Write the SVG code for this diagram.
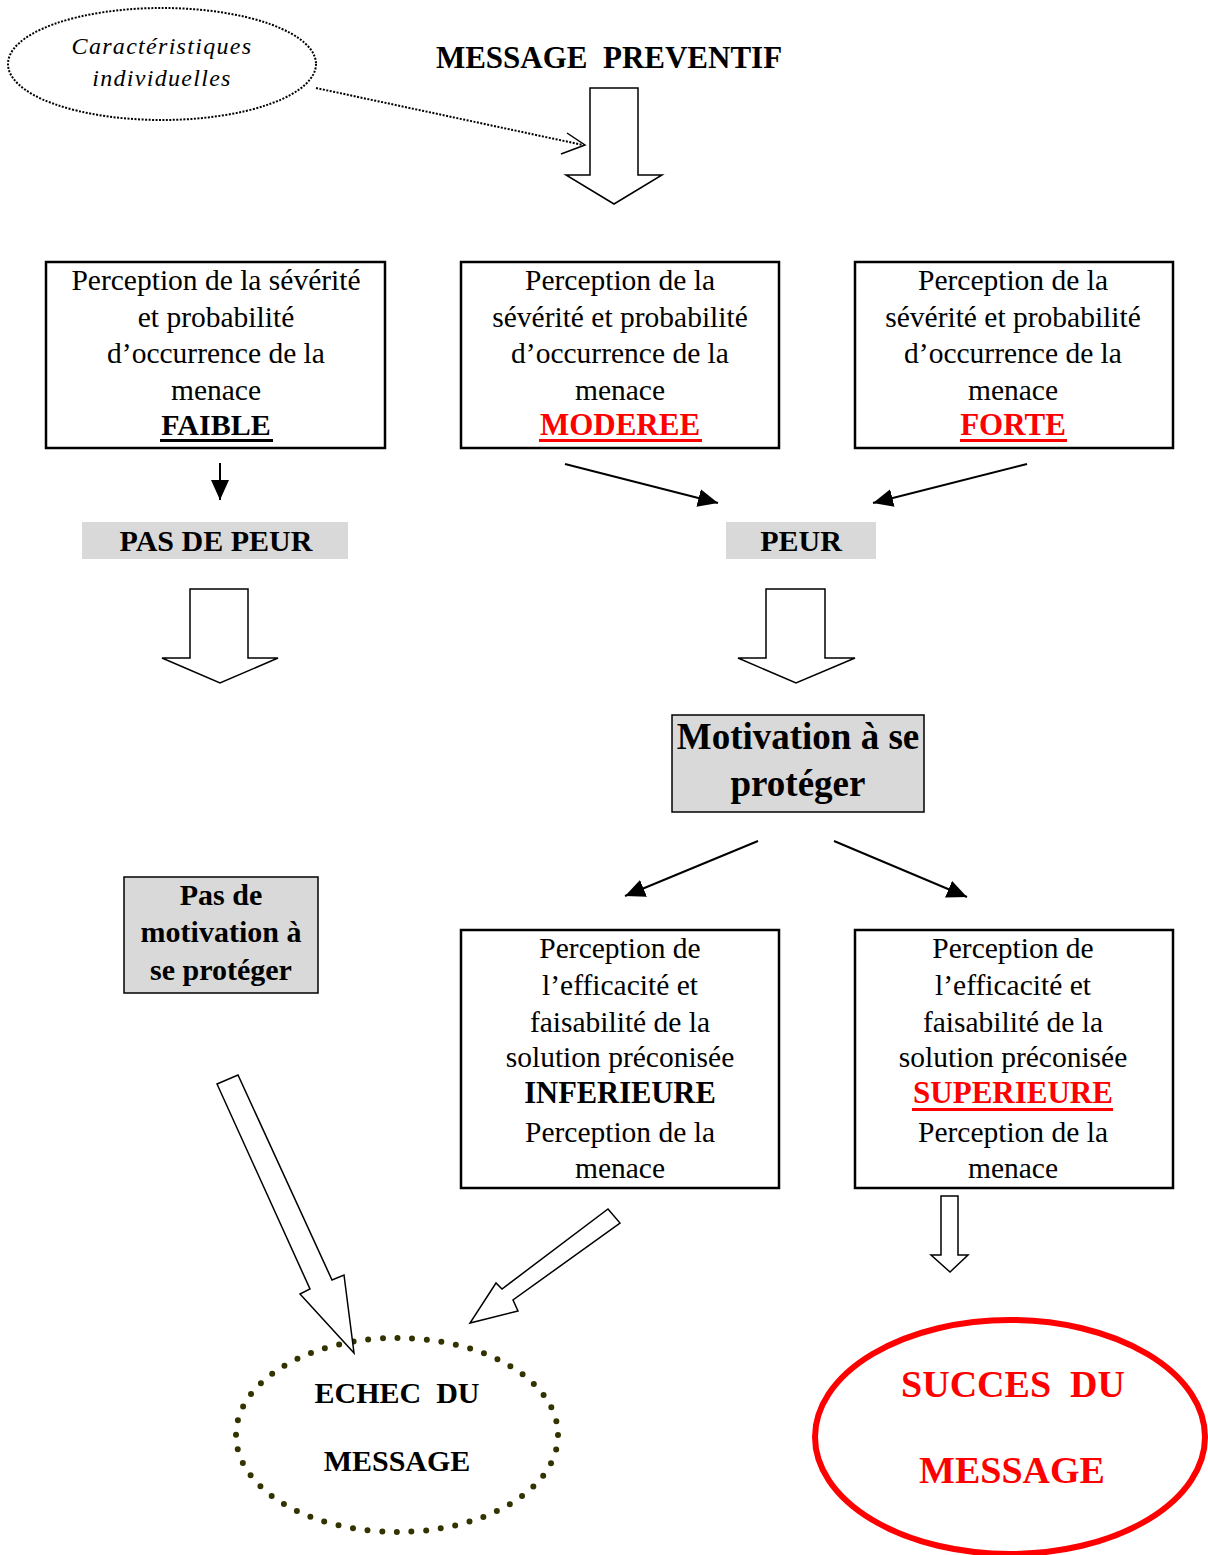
<svg xmlns="http://www.w3.org/2000/svg" width="1208" height="1555" viewBox="0 0 1208 1555">
<defs>
<marker id="tri" markerUnits="userSpaceOnUse" markerWidth="22" markerHeight="20" refX="20" refY="9" orient="auto">
<path d="M0,0 L20,9 L0,18 Z" fill="#000"/>
</marker>
<style>
.t{font-family:"Liberation Serif","Times New Roman",serif;font-size:29.5px;fill:#000;text-anchor:middle}
.b{font-family:"Liberation Serif","Times New Roman",serif;font-weight:bold;text-anchor:middle;fill:#000}
.red{fill:#ff0000}
.box{fill:#fff;stroke:#000;stroke-width:2.5}
.grey{fill:#d9d9d9}
.hol{fill:#fff;stroke:#000;stroke-width:1.5;stroke-linejoin:miter}
.con{stroke:#000;stroke-width:2;fill:none;marker-end:url(#tri)}
.ul{stroke-width:3}
</style>
</defs>
<rect width="1208" height="1555" fill="#fff"/>

<g id="caracteristiques">
<ellipse cx="162" cy="64" rx="154" ry="56" fill="none" stroke="#000" stroke-width="2" stroke-dasharray="2 1.5"/>
<text x="162" y="54" font-family="Liberation Serif, Times New Roman, serif" font-style="italic" font-size="24" letter-spacing="1.3" text-anchor="middle">Caractéristiques</text>
<text x="162" y="86" font-family="Liberation Serif, Times New Roman, serif" font-style="italic" font-size="24" letter-spacing="1.3" text-anchor="middle">individuelles</text>
</g>

<g id="message-preventif">
<text x="609" y="68" class="b" font-size="31" xml:space="preserve">MESSAGE  PREVENTIF</text>
</g>

<g id="box-faible">
<rect x="46" y="262" width="339" height="186" class="box"/>
<text class="t" x="216" y="290">Perception de la sévérité</text>
<text class="t" x="216" y="327">et probabilité</text>
<text class="t" x="216" y="363">d’occurrence de la</text>
<text class="t" x="216" y="400">menace</text>
<text class="b" font-size="30" x="216" y="435">FAIBLE</text>
<line x1="160" y1="440.5" x2="273" y2="440.5" stroke="#000" class="ul"/>
</g>

<g id="box-moderee">
<rect x="461" y="262" width="318" height="186" class="box"/>
<text class="t" x="620" y="290">Perception de la</text>
<text class="t" x="620" y="327">sévérité et probabilité</text>
<text class="t" x="620" y="363">d’occurrence de la</text>
<text class="t" x="620" y="400">menace</text>
<text class="b red" font-size="31" x="620" y="435">MODEREE</text>
<line x1="539" y1="440.5" x2="702" y2="440.5" stroke="#ff0000" class="ul"/>
</g>

<g id="box-forte">
<rect x="855" y="262" width="318" height="186" class="box"/>
<text class="t" x="1013" y="290">Perception de la</text>
<text class="t" x="1013" y="327">sévérité et probabilité</text>
<text class="t" x="1013" y="363">d’occurrence de la</text>
<text class="t" x="1013" y="400">menace</text>
<text class="b red" font-size="31" x="1013" y="435">FORTE</text>
<line x1="960" y1="440.5" x2="1067" y2="440.5" stroke="#ff0000" class="ul"/>
</g>

<g id="pas-de-peur">
<rect x="82" y="522" width="266" height="37" class="grey"/>
<text class="b" font-size="30" x="216" y="551">PAS DE PEUR</text>
</g>

<g id="peur">
<rect x="726" y="522" width="150" height="37" class="grey"/>
<text class="b" font-size="30" x="801" y="551">PEUR</text>
</g>

<g id="motivation">
<rect x="672" y="715" width="252" height="97" class="grey" stroke="#000" stroke-width="1.5"/>
<text class="b" font-size="37" x="798" y="749">Motivation à se</text>
<text class="b" font-size="37" x="798" y="796">protéger</text>
</g>

<g id="pas-motivation">
<rect x="124" y="877" width="194" height="116" class="grey" stroke="#000" stroke-width="1.5"/>
<text class="b" font-size="30" x="221" y="905">Pas de</text>
<text class="b" font-size="30" x="221" y="942">motivation à</text>
<text class="b" font-size="30" x="221" y="980">se protéger</text>
</g>

<g id="box-inferieure">
<rect x="461" y="930" width="318" height="258" class="box"/>
<text class="t" x="620" y="958">Perception de</text>
<text class="t" x="620" y="995">l’efficacité et</text>
<text class="t" x="620" y="1032">faisabilité de la</text>
<text class="t" x="620" y="1067">solution préconisée</text>
<text class="b" font-size="30.5" x="620" y="1103">INFERIEURE</text>
<text class="t" x="620" y="1142">Perception de la</text>
<text class="t" x="620" y="1178">menace</text>
</g>

<g id="box-superieure">
<rect x="855" y="930" width="318" height="258" class="box"/>
<text class="t" x="1013" y="958">Perception de</text>
<text class="t" x="1013" y="995">l’efficacité et</text>
<text class="t" x="1013" y="1032">faisabilité de la</text>
<text class="t" x="1013" y="1067">solution préconisée</text>
<text class="b red" font-size="31" x="1013" y="1103">SUPERIEURE</text>
<line x1="912" y1="1109.5" x2="1113" y2="1109.5" stroke="#ff0000" class="ul"/>
<text class="t" x="1013" y="1142">Perception de la</text>
<text class="t" x="1013" y="1178">menace</text>
</g>

<g id="echec">
<ellipse cx="397" cy="1435" rx="161" ry="97" fill="none" stroke="#333300" stroke-width="6" stroke-linecap="round" stroke-dasharray="0 14.7"/>
<text class="b" font-size="30" x="397" y="1403" xml:space="preserve">ECHEC  DU</text>
<text class="b" font-size="30" x="397" y="1471">MESSAGE</text>
</g>

<g id="succes">
<ellipse cx="1010" cy="1437" rx="195" ry="117" fill="none" stroke="#ff0000" stroke-width="6"/>
<text class="b red" font-size="38" x="1013" y="1397" xml:space="preserve">SUCCES  DU</text>
<text class="b red" font-size="38" x="1012" y="1483">MESSAGE</text>
</g>

<g id="connectors">
<path d="M316,88 L583,145" fill="none" stroke="#000" stroke-width="2" stroke-dasharray="2 1.5"/>
<path d="M567,133 L585,145 L561,154" fill="none" stroke="#000" stroke-width="1.5"/>
<polygon class="hol" points="590,88 638,88 638,175 662,175 614,204 566,175 590,175"/>
<line class="con" x1="220" y1="463" x2="220" y2="500"/>
<line class="con" x1="565" y1="464" x2="718" y2="503"/>
<line class="con" x1="1027" y1="464" x2="873" y2="503"/>
<polygon class="hol" points="190,589 248,589 248,658 278,658 220,683 162,658 190,658"/>
<polygon class="hol" points="766,589 825,589 825,658 855,658 796,683 738,658 766,658"/>
<line class="con" x1="758" y1="841" x2="625" y2="896"/>
<line class="con" x1="834" y1="841" x2="967" y2="897"/>
<polygon class="hol" points="941,1196 958,1196 958,1255 968,1255 950,1272 931,1255 941,1255"/>
<polygon class="hol" points="217,1084 238,1075 332,1280 344,1275 354,1353 300,1294 310,1289"/>
<polygon class="hol" points="608,1209 620,1223 513,1300 518,1311 470,1323 496,1283 502,1289"/>
</g>
</svg>
